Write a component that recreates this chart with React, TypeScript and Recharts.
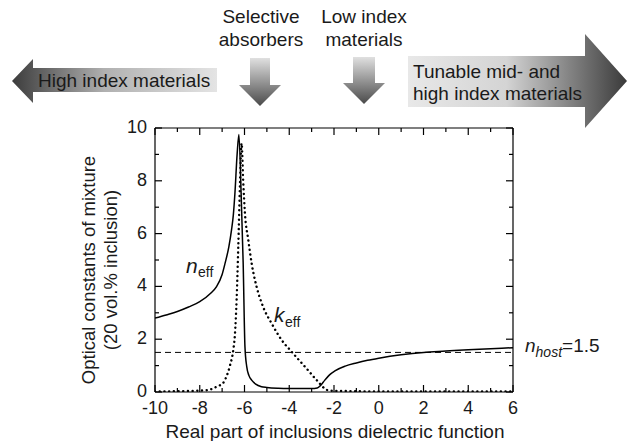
import React from 'react';
import { LineChart, Line, XAxis, YAxis, ReferenceLine } from 'recharts';

const FONT = '"Liberation Sans", Arial, Helvetica, sans-serif';

// n_eff (solid)
const nX = [-10, -9.5, -9, -8.5, -8, -7.5, -7.25, -7, -6.87, -6.7, -6.58, -6.5, -6.43, -6.33, -6.25, -6.15, -6.06, -5.98, -5.9, -5.8, -5.68, -5.5, -5.24, -5, -4.5, -4, -3.5, -3, -2.75, -2.6, -2.41, -2.2, -1.96, -1.5, -1, -0.5, 0, 1, 2, 3, 4, 5, 6];
const nY = [2.8, 2.92, 3.05, 3.22, 3.42, 3.75, 3.99, 4.45, 4.87, 5.5, 6.14, 6.7, 7.5, 9.0, 9.75, 7.5, 4.9, 1.72, 0.96, 0.62, 0.45, 0.3, 0.2, 0.17, 0.14, 0.13, 0.13, 0.13, 0.15, 0.25, 0.45, 0.65, 0.8, 0.98, 1.1, 1.2, 1.28, 1.41, 1.5, 1.55, 1.6, 1.64, 1.68];

// k_eff (dotted)
const kX = [-10, -9, -8, -7.6, -7.25, -6.95, -6.8, -6.65, -6.5, -6.43, -6.35, -6.28, -6.2, -6.13, -6.06, -5.98, -5.83, -5.68, -5.46, -5.17, -4.79, -4.34, -3.9, -3.3, -2.71, -2.4, -2.2, -1, 0, 2, 4, 6];
const kY = [0.02, 0.03, 0.05, 0.08, 0.2, 0.35, 0.6, 1.0, 1.6, 2.15, 3.55, 5.45, 7.95, 9.42, 8.03, 6.77, 5.76, 4.87, 3.99, 3.23, 2.6, 1.97, 1.53, 0.96, 0.39, 0.12, 0.05, 0.03, 0.02, 0.02, 0.02, 0.02];

const xTicks = [-10, -9, -8, -7, -6, -5, -4, -3, -2, -1, 0, 1, 2, 3, 4, 5, 6];
const yTicks = [0, 1, 2, 3, 4, 5, 6, 7, 8, 9, 10];
const nHost = 1.5;

const nData = nX.map((x, i) => ({ x, v: nY[i] }));
const kData = kX.map((x, i) => ({ x, v: kY[i] }));

const isMajor = (v: number) => Math.abs(v % 2) < 1e-9;
const MAJ = 7;
const MIN = 4;

const BottomTick = (p: any) => {
  const { x, y, payload } = p;
  const axisY = y - 8;
  const major = isMajor(payload.value);
  return (
    <g>
      <line x1={x} x2={x} y1={axisY} y2={axisY - (major ? MAJ : MIN)} stroke="#000" strokeWidth={1.2} />
      {major && (
        <text x={x} y={axisY + 22} textAnchor="middle" fontSize={18} fill="#1a1a1a" fontFamily={FONT}>
          {payload.value}
        </text>
      )}
    </g>
  );
};

const LeftTick = (p: any) => {
  const { x, y, payload } = p;
  const axisX = x + 8;
  const major = isMajor(payload.value);
  return (
    <g>
      <line x1={axisX} x2={axisX + (major ? MAJ : MIN)} y1={y} y2={y} stroke="#000" strokeWidth={1.2} />
      {major && (
        <text x={x} y={y + 5} textAnchor="end" fontSize={18} fill="#1a1a1a" fontFamily={FONT}>
          {payload.value}
        </text>
      )}
    </g>
  );
};

const TopTick = (p: any) => {
  const { x, y, payload } = p;
  const major = isMajor(payload.value);
  return <line x1={x} x2={x} y1={y} y2={y + (major ? MAJ : MIN)} stroke="#000" strokeWidth={1.2} />;
};

const RightTick = (p: any) => {
  const { x, y, payload } = p;
  const major = isMajor(payload.value);
  return <line x1={x} x2={x - (major ? MAJ : MIN)} y1={y} y2={y} stroke="#000" strokeWidth={1.2} />;
};

const Overlay = () => (
  <svg width={628} height={441} style={{ position: 'absolute', left: 0, top: 0, pointerEvents: 'none' }} fontFamily={FONT}>
    <defs>
      <linearGradient id="gLeft" x1="0" y1="0" x2="1" y2="0">
        <stop offset="0" stopColor="#3c3c3c" />
        <stop offset="0.45" stopColor="#b0b0b0" />
        <stop offset="1" stopColor="#e4e4e4" />
      </linearGradient>
      <linearGradient id="gRight" x1="0" y1="0" x2="1" y2="0">
        <stop offset="0" stopColor="#e8e8e8" />
        <stop offset="0.45" stopColor="#d4d4d4" />
        <stop offset="1" stopColor="#3a3a3a" />
      </linearGradient>
      <linearGradient id="gDown" x1="0" y1="0" x2="0" y2="1">
        <stop offset="0" stopColor="#e0e0e0" />
        <stop offset="1" stopColor="#4a4a4a" />
      </linearGradient>
    </defs>
    {/* left arrow */}
    <polygon points="12,81 33,59 33,68 217,68 217,92 33,92 33,103" fill="url(#gLeft)" />
    <text x={38} y={87} fontSize={19} fill="#1a1a1a">High index materials</text>
    {/* down arrows */}
    <polygon points="250,58 270,58 270,85 281,85 260,106 239,85 250,85" fill="url(#gDown)" />
    <polygon points="353,57 375,57 375,83 385,83 364,104 343,83 353,83" fill="url(#gDown)" />
    <text x={261} y={23} fontSize={19} textAnchor="middle" fill="#1a1a1a">Selective</text>
    <text x={261} y={46} fontSize={19} textAnchor="middle" fill="#1a1a1a">absorbers</text>
    <text x={364} y={23} fontSize={19} textAnchor="middle" fill="#1a1a1a">Low index</text>
    <text x={364} y={46} fontSize={19} textAnchor="middle" fill="#1a1a1a">materials</text>
    {/* right arrow */}
    <polygon points="408,56 585,56 585,34 627,81 585,128 585,107 408,107" fill="url(#gRight)" />
    <text x={413} y={78} fontSize={19} fill="#1a1a1a">Tunable mid- and</text>
    <text x={413} y={100} fontSize={19} fill="#1a1a1a">high index materials</text>
    {/* curve labels */}
    <text x={186} y={273} fontSize={21} fontStyle="italic" fill="#1a1a1a">n</text>
    <text x={198} y={277} fontSize={14} fill="#1a1a1a">eff</text>
    <text x={274} y={322} fontSize={21} fontStyle="italic" fill="#1a1a1a">k</text>
    <text x={285} y={327} fontSize={14} fill="#1a1a1a">eff</text>
    <text x={525} y={352} fontSize={19} fill="#1a1a1a">
      <tspan fontStyle="italic">n</tspan>
      <tspan fontStyle="italic" fontSize={14} dy={5}>host</tspan>
      <tspan dy={-5}>=1.5</tspan>
    </text>
    {/* axis titles */}
    <text x={335} y={438} fontSize={19} textAnchor="middle" fill="#1a1a1a">Real part of inclusions dielectric function</text>
    <text transform="translate(95,270) rotate(-90)" fontSize={18.5} textAnchor="middle" fill="#1a1a1a">Optical constants of mixture</text>
    <text transform="translate(117,270) rotate(-90)" fontSize={18.5} textAnchor="middle" fill="#1a1a1a">(20 vol.% inclusion)</text>
  </svg>
);

export default function App() {
  return (
    <div style={{ position: 'absolute', left: 0, top: 0, width: 628, height: 441, background: '#fff' }}>
      <LineChart width={628} height={441} margin={{ top: 127, right: 114, bottom: 0, left: 0 }}>
        <XAxis
          xAxisId={0}
          dataKey="x"
          type="number"
          domain={[-10, 6]}
          ticks={xTicks}
          interval={0}
          allowDataOverflow
          height={49}
          tickSize={0}
          tickMargin={8}
          tickLine={false}
          tick={<BottomTick />}
          axisLine={{ stroke: '#000', strokeWidth: 1.2 }}
        />
        <XAxis
          xAxisId="top"
          orientation="top"
          dataKey="x"
          type="number"
          domain={[-10, 6]}
          ticks={xTicks}
          interval={0}
          allowDataOverflow
          height={1}
          tickSize={0}
          tickMargin={0}
          tickLine={false}
          tick={<TopTick />}
          axisLine={{ stroke: '#000', strokeWidth: 1.2 }}
        />
        <YAxis
          yAxisId={0}
          type="number"
          domain={[0, 10]}
          ticks={yTicks}
          interval={0}
          allowDataOverflow
          width={155}
          tickSize={0}
          tickMargin={8}
          tickLine={false}
          tick={<LeftTick />}
          axisLine={{ stroke: '#000', strokeWidth: 1.2 }}
        />
        <YAxis
          yAxisId="r"
          orientation="right"
          type="number"
          domain={[0, 10]}
          ticks={yTicks}
          interval={0}
          allowDataOverflow
          width={1}
          tickSize={0}
          tickMargin={0}
          tickLine={false}
          tick={<RightTick />}
          axisLine={{ stroke: '#000', strokeWidth: 1.2 }}
        />
        <ReferenceLine y={nHost} stroke="#000" strokeWidth={1} strokeDasharray="6 4" />
        <Line
          data={kData}
          dataKey="v"
          name="k_eff"
          type="monotone"
          stroke="#000"
          strokeWidth={2.4}
          strokeDasharray="0.1 4.6"
          strokeLinecap="round"
          dot={false}
          isAnimationActive={false}
        />
        <Line
          data={nData}
          dataKey="v"
          name="n_eff"
          type="monotone"
          stroke="#000"
          strokeWidth={1.5}
          dot={false}
          isAnimationActive={false}
        />
      </LineChart>
      <Overlay />
    </div>
  );
}
